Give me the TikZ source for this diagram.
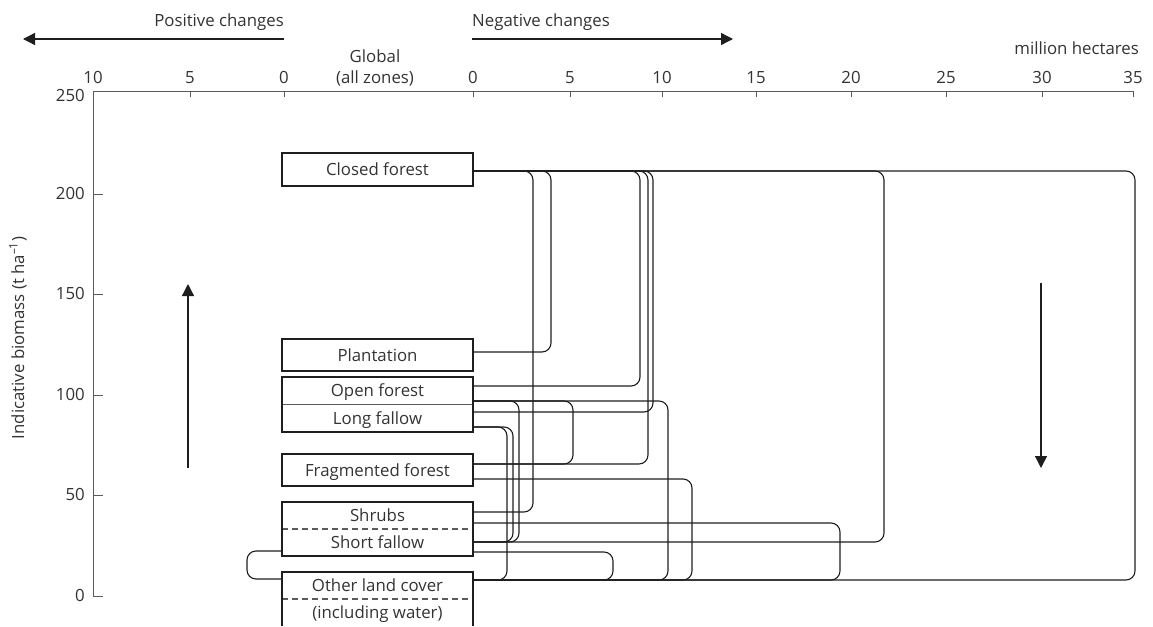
\documentclass[tikz,border=0pt]{standalone}
\usepackage{fontspec}
\setmainfont{Open Sans}
\usetikzlibrary{arrows.meta,calc}
\definecolor{ink}{HTML}{1E1E1E}
\definecolor{txt}{HTML}{333333}
\definecolor{axisgray}{HTML}{5A5A5A}
\begin{document}
\begin{tikzpicture}[x=1pt,y=-1pt,
  every node/.style={font=\fontsize{16.8}{20}\selectfont, text=txt},
  lc/.style={minimum width=191pt, inner sep=0pt, outer sep=0pt, text height=12pt, text depth=0pt},
  frame/.style={draw=ink, line width=2.2pt},
  divline/.style={draw=axisgray, line width=1pt},
  divdash/.style={draw=axisgray, line width=1.2pt, dash pattern=on 6pt off 4pt},
  link/.style={draw=ink, line width=1.1pt, rounded corners=9pt},
  axisline/.style={draw=axisgray, line width=1pt},
  bigarrow/.style={draw=ink, line width=1.3pt, -{Triangle[width=12pt,length=12pt]}},
  ticklab/.style={anchor=base, inner sep=0pt},
  ylab/.style={anchor=base east, inner sep=0pt},
  ]
\useasboundingbox (0,0) rectangle (1153,626);

% ---- axes ----
\draw[axisline] (93,596) -- (93,91) -- (1134,91);
\foreach \xx in {190,284,473,570,662,756,851,946,1042,1133}
  \draw[axisline] (\xx,91) -- (\xx,97);
\foreach \v/\xx in {10/93,5/190,0/284}
  \node[ticklab] at (\xx,83) {\v};
\foreach \v/\xx in {0/473,5/570,10/662,15/756,20/851,25/946,30/1042,35/1133}
  \node[ticklab] at (\xx,83) {\v};
\foreach \v/\yy in {0/596,50/495.5,100/395,150/294.5,200/194}{
  \draw[axisline] (93,\yy) -- (103,\yy);
  \node[ylab] at (85,\yy+5) {\v};
}
\node[ylab] at (85,101.5) {250};
\node[rotate=90] (ytitle) at (18,338) {Indicative biomass (t ha\textsuperscript{–1})};

\node[anchor=base, inner sep=0pt] (glob) at (375,63) {Global};
\node[anchor=base, inner sep=0pt] (zones) at (375,83) {(all zones)};
\node[anchor=base east, inner sep=0pt] (unit) at (1139,55) {million hectares};
\node[anchor=base east, inner sep=0pt] (pos) at (284,27) {Positive changes};
\node[anchor=base west, inner sep=0pt] (neg) at (472,27) {Negative changes};

% ---- direction arrows ----
\coordinate (posA) at (284,39);  \coordinate (posB) at (23,39);
\coordinate (negA) at (472,39);  \coordinate (negB) at (733,39);
\coordinate (upA) at (188,468);  \coordinate (upB) at (188,284);
\coordinate (dnA) at (1041,283); \coordinate (dnB) at (1041,468);
\draw[bigarrow] (posA) -- (posB);
\draw[bigarrow] (negA) -- (negB);
\draw[bigarrow] (upA) -- (upB);
\draw[bigarrow] (dnA) -- (dnB);

% ---- land cover classes ----
\node[lc, frame, minimum height=33pt] (closed) at (377.5,169.5) {Closed forest};
\node[lc, frame, minimum height=32pt] (plant) at (377.5,355) {Plantation};
\node[lc, minimum height=27.5pt] (open) at (377.5,390.75) {Open forest};
\node[lc, minimum height=27.5pt] (long) at (377.5,418.25) {Long fallow};
\draw[divline] (open.south west) -- (open.south east);
\draw[frame] (open.north west) rectangle (long.south east);
\node[lc, frame, minimum height=32pt] (frag) at (377.5,470) {Fragmented forest};
\node[lc, minimum height=27pt] (shrubs) at (377.5,515.5) {Shrubs};
\node[lc, minimum height=27pt] (short) at (377.5,542.5) {Short fallow};
\draw[divdash] (shrubs.south west) -- (shrubs.south east);
\draw[frame] (shrubs.north west) rectangle (short.south east);
\node[lc, minimum height=27pt] (other) at (377.5,585.5) {Other land cover};
\node[lc, minimum height=27pt] (water) at (377.5,612.5) {(including water)};
\draw[divdash] (other.south west) -- (other.south east);
\draw[frame] (water.south west) -- (other.north west) -- (other.north east) -- (water.south east);

% ---- attachment points on the class boxes ----
\coordinate (cf) at ($(closed.east)+(0,1.5)$);
\coordinate (pl) at ($(plant.east)+(0,-3)$);
\coordinate (o1) at ($(open.east)+(0,-4.75)$);
\coordinate (o2) at ($(open.east)+(0,10.25)$);
\coordinate (l1) at ($(long.east)+(0,-6.25)$);
\coordinate (l2) at ($(long.east)+(0,8.75)$);
\coordinate (f1) at ($(frag.east)+(0,-6)$);
\coordinate (f2) at ($(frag.east)+(0,9)$);
\coordinate (s1) at ($(shrubs.east)+(0,-3.5)$);
\coordinate (s2) at ($(shrubs.east)+(0,7.5)$);
\coordinate (h1) at ($(short.east)+(0,-0.5)$);
\coordinate (h2) at ($(short.east)+(0,9.5)$);
\coordinate (hl) at ($(short.west)+(0,8.5)$);
\coordinate (ot) at ($(other.east)+(0,-5.5)$);
\coordinate (otl) at ($(other.west)+(0,-6.5)$);

% ---- transitions (loop width = area changed) ----
\draw[link] (cf) -- ++(78,0) |- (pl);
\draw[link] (cf) -- ++(60,0) |- (s1);
\draw[link] (cf) -- ++(167,0) |- (o1);
\draw[link] (cf) -- ++(175,0) |- (f1);
\draw[link] (cf) -- ++(180,0) |- (l1);
\draw[link] (cf) -- ++(411,0) |- (h1);
\draw[link] (cf) -- ++(662,0) |- (ot);
\draw[link] (o2) -- ++(46,0) |- (h1);
\draw[link] (o2) -- ++(100,0) |- (f1);
\draw[link] (o2) -- ++(195,0) |- (ot);
\draw[link] (l2) -- ++(34,0) |- (ot);
\draw[link] (l2) -- ++(40,0) |- (h1);
\draw[link] (f2) -- ++(219,0) |- (ot);
\draw[link] (s2) -- ++(367,0) |- (ot);
\draw[link] (h2) -- ++(140,0) |- (ot);
\draw[link] (hl) -- ++(-35,0) |- (otl);
\end{tikzpicture}
\end{document}
